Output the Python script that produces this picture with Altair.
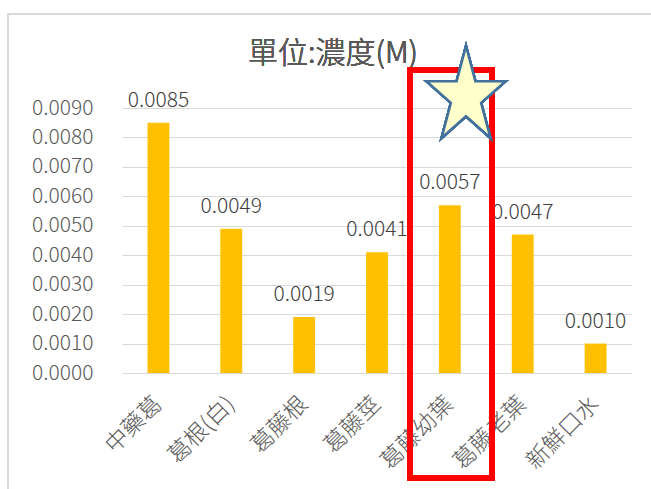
import altair as alt
import pandas as pd
import math

categories = ["中藥葛", "葛根(白)", "葛藤根", "葛藤莖", "葛藤幼葉", "葛藤老葉", "新鮮口水"]
values = [0.0085, 0.0049, 0.0019, 0.0041, 0.0057, 0.0047, 0.0010]
y_ticks = [0.000, 0.001, 0.002, 0.003, 0.004, 0.005, 0.006, 0.007, 0.008, 0.009]
title_text = "單位:濃度(M)"

FONT = "Noto Sans CJK TC"
W, H = 510, 265

df = pd.DataFrame({"cat": categories, "val": values})

# star shape path (unit box [-1,1], slightly taller than wide)
pts = []
for i in range(10):
    ang = math.radians(-90 + 36 * i)
    r = 1.0 if i % 2 == 0 else 0.382
    pts.append((r * math.cos(ang), r * math.sin(ang)))
ymin, ymax = -1.0, 0.809
xs = 79 / 92 / 0.951
path = "M" + "L".join(
    f"{x * xs:.3f},{(y - (ymin + ymax) / 2) * 2 / (ymax - ymin):.3f}" for x, y in pts
) + "Z"

X_ENC = alt.X("cat:N", sort=categories,
              scale=alt.Scale(paddingInner=0.7, paddingOuter=0.35),
              axis=alt.Axis(title=None, labelAngle=-45, labelAlign="right",
                            labelBaseline="middle", labelPadding=27,
                            labelFontSize=23, labelFontWeight=300,
                            labelColor="#595959", labelFont=FONT,
                            labelOverlap=False, labelLimit=300,
                            ticks=False, domain=False, grid=False))
Y_ENC = alt.Y("val:Q", scale=alt.Scale(domain=[0, 0.009], nice=False),
              axis=alt.Axis(title=None, values=y_ticks, format=".4f",
                            labelFontSize=21, labelFontWeight=300,
                            labelColor="#595959", labelFont=FONT,
                            labelOverlap=False,
                            labelPadding=29, ticks=False, domain=False,
                            grid=True, gridColor="#D9D9D9", gridWidth=1))

base = alt.Chart(df)

border = base.mark_rect(fill=None, stroke="#D9D9D9", strokeWidth=1.5).encode(
    x=alt.value(-114), x2=alt.value(700), y=alt.value(-94), y2=alt.value(600)
)

bars = base.mark_bar(color="#FFC000").encode(x=X_ENC, y=Y_ENC)

labels = base.mark_text(font=FONT, fontSize=21, fontWeight=300, color="#404040",
                        baseline="alphabetic", dy=-16).encode(
    x=X_ENC, y=Y_ENC,
    text=alt.Text("val:Q", format=".4f"),
)

title = base.mark_text(font=FONT, fontSize=30, fontWeight=300, color="#595959",
                       baseline="middle", align="center").encode(
    x=alt.value(211), y=alt.value(-54), text=alt.value(title_text)
)

redbox = base.mark_rect(fill=None, stroke="#FF0000", strokeWidth=6).encode(
    x=alt.value(288), x2=alt.value(370), y=alt.value(-38), y2=alt.value(370)
)

star = base.mark_point(shape=path, filled=True, fill="#FFFFCC", stroke="#41719C",
                       strokeWidth=2.5, opacity=1, fillOpacity=1, size=92 * 92).encode(
    x=alt.value(344), y=alt.value(-16)
)

chart = alt.layer(border, bars, labels, title, redbox, star).properties(
    width=W, height=H,
    background="white",
    autosize=alt.AutoSizeParams(type="none"),
    padding={"left": 122, "top": 108, "right": 19, "bottom": 116},
).configure_view(stroke=None, strokeWidth=0)

chart.save("out.html", embed_options={"renderer": "svg", "actions": False})
